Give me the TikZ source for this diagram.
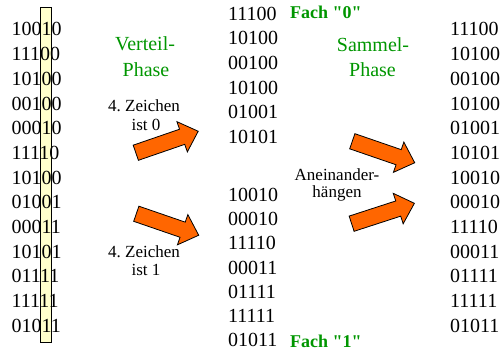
\documentclass[tikz,border=0pt]{standalone}
\usepackage{fontspec}
\setmainfont{Liberation Serif}
\newfontfamily\fachfont{Liberation Serif}[Ligatures=TeXOff]
\frenchspacing
\definecolor{fachgruen}{RGB}{0,150,0}
\definecolor{pfeilorange}{RGB}{255,102,0}
\definecolor{spaltengelb}{RGB}{255,255,204}
\tikzset{
  ziffer/.style={font=\fontsize{20}{24}\selectfont, inner sep=0pt, anchor=base west},
  phase/.style={font=\fontsize{20}{24}\selectfont, text=fachgruen, inner sep=0pt, anchor=base},
  notiz/.style={font=\fontsize{17}{18}\selectfont, inner sep=0pt, anchor=base},
  fach/.style={font=\fachfont\fontsize{18}{20}\selectfont\bfseries, text=fachgruen, inner sep=0pt, anchor=base west},
  pfeilform/.style={fill=pfeilorange, draw=black, line width=0.8pt, line join=miter}
}
\newcommand\pfeil[2]{%
  \draw[pfeilform, shift={#1}, rotate=#2] (-33,-8) -- (16,-8) -- (16,-16) -- (33,0)
    -- (16,16) -- (16,8) -- (-33,8) -- cycle;}
\begin{document}
\begin{tikzpicture}[x=1pt,y=-1pt]
    \useasboundingbox (0,0) rectangle (502,353);
    % Spalte der 4. Zeichen
    \draw[fill=spaltengelb, line width=0.6pt] (40.7,7.3) rectangle (51.7,342.7);
    % Ausgangsfolge
    \foreach \z [count=\i] in {10010,11100,10100,00100,00010,11110,10100,01001,00011,10101,01111,11111,01011}
      \node[ziffer] (li\i) at (11.5,{36+(\i-1)*24.67}) {\z};
    % Fach 0 und Fach 1
    \foreach \z [count=\i] in {11100,10100,00100,10100,01001,10101}
      \node[ziffer] (mo\i) at (228,{20.3+(\i-1)*24.65}) {\z};
    \foreach \z [count=\i] in {10010,00010,11110,00011,01111,11111,01011}
      \node[ziffer] (mu\i) at (228,{201.6+(\i-1)*24.17}) {\z};
    \node[fach] (f0) at (290,18.5) {Fach "0"};
    \node[fach] (f1) at (290,347) {Fach "1"};
    % Ergebnis
    \foreach \z [count=\i] in {11100,10100,00100,10100,01001,10101,10010,00010,11110,00011,01111,11111,01011}
      \node[ziffer] (re\i) at (450,{36+(\i-1)*24.67}) {\z};
    % Beschriftungen
    \node[phase] (vt1) at (145,50) {Verteil-};
    \node[phase] (vt2) at (146,76) {Phase};
    \node[phase] (sa1) at (373,52) {Sammel-};
    \node[phase] (sa2) at (372.5,76) {Phase};
    \node[notiz] (z01) at (144,111.5) {4. Zeichen};
    \node[notiz] (z02) at (146,130) {ist 0};
    \node[notiz] (z11) at (144,257) {4. Zeichen};
    \node[notiz] (z12) at (146,275) {ist 1};
    \node[notiz] (an1) at (337,180) {Aneinander-};
    \node[notiz] (an2) at (337,197) {hängen};
    % Pfeile
    \pfeil{(167,142)}{19}
    \pfeil{(167.5,224.5)}{-19}
    \pfeil{(383.5,152)}{-19}
    \pfeil{(383,213.5)}{18}
\end{tikzpicture}
\end{document}
